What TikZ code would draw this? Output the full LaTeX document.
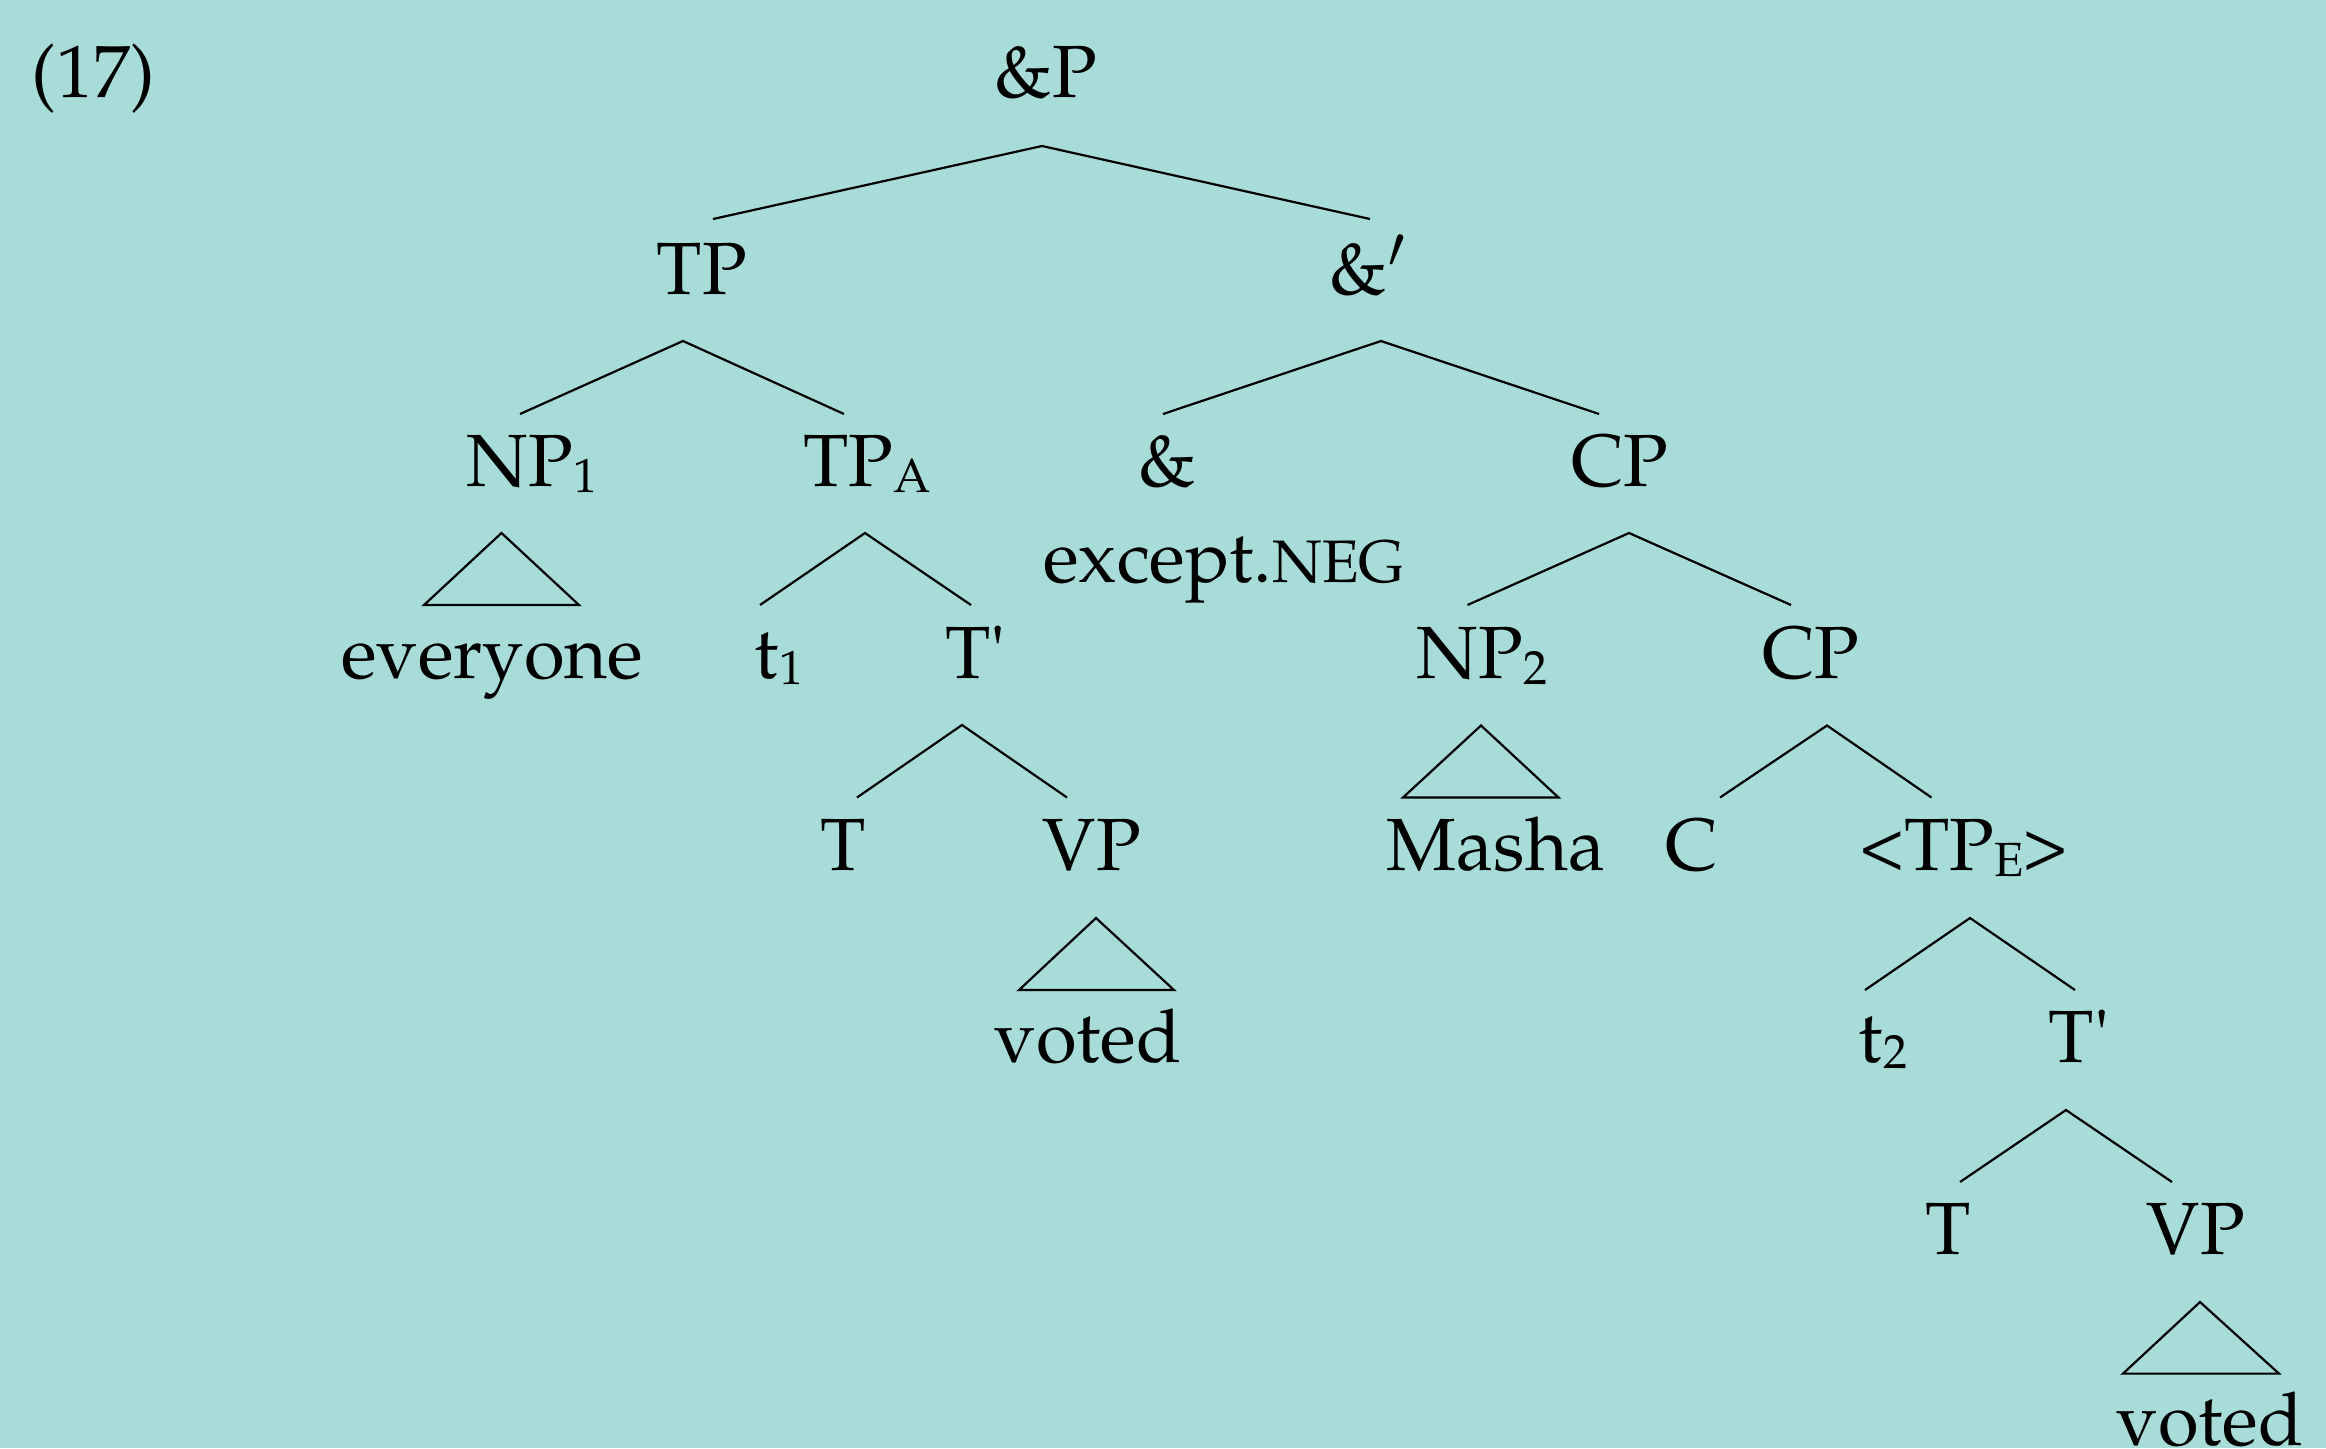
\documentclass[tikz,border=0pt]{standalone}
\usepackage[T1]{fontenc}
\usepackage{mathpazo}
\definecolor{bgteal}{RGB}{168,220,217}
\newcommand\mysub[1]{\raisebox{-3pt}{\fontsize{24}{24}\selectfont #1}}
\newcommand\mysc[1]{{\fontsize{30}{30}\selectfont #1}}
\tikzset{
  lab/.style={inner sep=0pt, anchor=base, font=\fontsize{37}{44}\selectfont},
  br/.style={line width=1.1pt, line join=miter}
}
\begin{document}
\begin{tikzpicture}[x=0.5pt,y=-0.5pt]
\fill[bgteal] (0,0) rectangle (2326,1448);
\useasboundingbox (0,0) rectangle (2326,1448);
% labels
\node[lab, anchor=base west] (ex) at (31,97) {(17)};
\node[lab] (AP) at (1046,97) {\&P};
\node[lab] (TP) at (702,294) {TP};
\node[lab] (Abar) at (1368,294) {\&$'$};
\node[lab] (NP1) at (532,486) {NP\mysub{1}};
\node[lab] (TPA) at (867,486) {TP\mysub{A}};
\node[lab] (Amp) at (1167,486) {\&};
\node[lab] (CP1) at (1620,486) {CP};
\node[lab, anchor=base west] (exc) at (1043,582) {except.\mysc{NEG}};
\node[lab] (every) at (492,678.5) {everyone};
\node[lab] (t1) at (779,678.5) {t\mysub{1}};
\node[lab] (Tp1) at (976,678.5) {T\textquotesingle};
\node[lab] (NP2) at (1482,678.5) {NP\mysub{2}};
\node[lab] (CP2) at (1811,678.5) {CP};
\node[lab] (T1) at (843,870) {T};
\node[lab] (VP1) at (1092,870) {VP};
\node[lab] (Masha) at (1496,870) {Masha};
\node[lab] (C) at (1692,870) {C};
\node[lab] (TPE) at (1964,870) {<TP\mysub{E}>};
\node[lab] (voted1) at (1088,1062) {voted};
\node[lab] (t2) at (1883,1062) {t\mysub{2}};
\node[lab] (Tp2) at (2079,1062) {T\textquotesingle};
\node[lab] (T2) at (1948,1254) {T};
\node[lab] (VP2) at (2196,1254) {VP};
\node[lab] (voted2) at (2210,1445) {voted};
% branch points
\coordinate (AP-b) at (1042,146);
\coordinate (TP-t) at (713,219);
\coordinate (Abar-t) at (1370,219);
\coordinate (TP-b) at (683,341);
\coordinate (NP1-t) at (520,414);
\coordinate (TPA-t) at (844,414);
\coordinate (Abar-b) at (1381,341);
\coordinate (Amp-t) at (1163,414);
\coordinate (CP1-t) at (1599,414);
\coordinate (NP1-b) at (501.5,533);
\coordinate (every-l) at (424,605);
\coordinate (every-r) at (579,605);
\coordinate (TPA-b) at (865,533);
\coordinate (t1-t) at (760,605);
\coordinate (Tp1-t) at (971,605);
\coordinate (CP1-b) at (1629,533);
\coordinate (NP2-t) at (1467.5,605);
\coordinate (CP2-t) at (1791,605);
\coordinate (Tp1-b) at (962,725);
\coordinate (T1-t) at (857,797.5);
\coordinate (VP1-t) at (1067,797.5);
\coordinate (NP2-b) at (1481,725.5);
\coordinate (Masha-l) at (1403,797.5);
\coordinate (Masha-r) at (1558.5,797.5);
\coordinate (CP2-b) at (1827,725.5);
\coordinate (C-t) at (1720,797.5);
\coordinate (TPE-t) at (1931.5,797.5);
\coordinate (VP1-b) at (1096,918);
\coordinate (voted1-l) at (1019,990);
\coordinate (voted1-r) at (1174,990);
\coordinate (TPE-b) at (1970,918);
\coordinate (t2-t) at (1865,990);
\coordinate (Tp2-t) at (2075,990);
\coordinate (Tp2-b) at (2066,1110);
\coordinate (T2-t) at (1960,1182);
\coordinate (VP2-t) at (2172,1182);
\coordinate (VP2-b) at (2200,1302);
\coordinate (voted2-l) at (2123,1373.6);
\coordinate (voted2-r) at (2279,1373.6);
% branches
\draw[br] (TP-t) -- (AP-b) -- (Abar-t);
\draw[br] (NP1-t) -- (TP-b) -- (TPA-t);
\draw[br] (Amp-t) -- (Abar-b) -- (CP1-t);
\draw[br] (NP1-b) -- (every-l) -- (every-r) -- cycle;
\draw[br] (t1-t) -- (TPA-b) -- (Tp1-t);
\draw[br] (NP2-t) -- (CP1-b) -- (CP2-t);
\draw[br] (T1-t) -- (Tp1-b) -- (VP1-t);
\draw[br] (NP2-b) -- (Masha-l) -- (Masha-r) -- cycle;
\draw[br] (C-t) -- (CP2-b) -- (TPE-t);
\draw[br] (VP1-b) -- (voted1-l) -- (voted1-r) -- cycle;
\draw[br] (t2-t) -- (TPE-b) -- (Tp2-t);
\draw[br] (T2-t) -- (Tp2-b) -- (VP2-t);
\draw[br] (VP2-b) -- (voted2-l) -- (voted2-r) -- cycle;
\end{tikzpicture}
\end{document}
